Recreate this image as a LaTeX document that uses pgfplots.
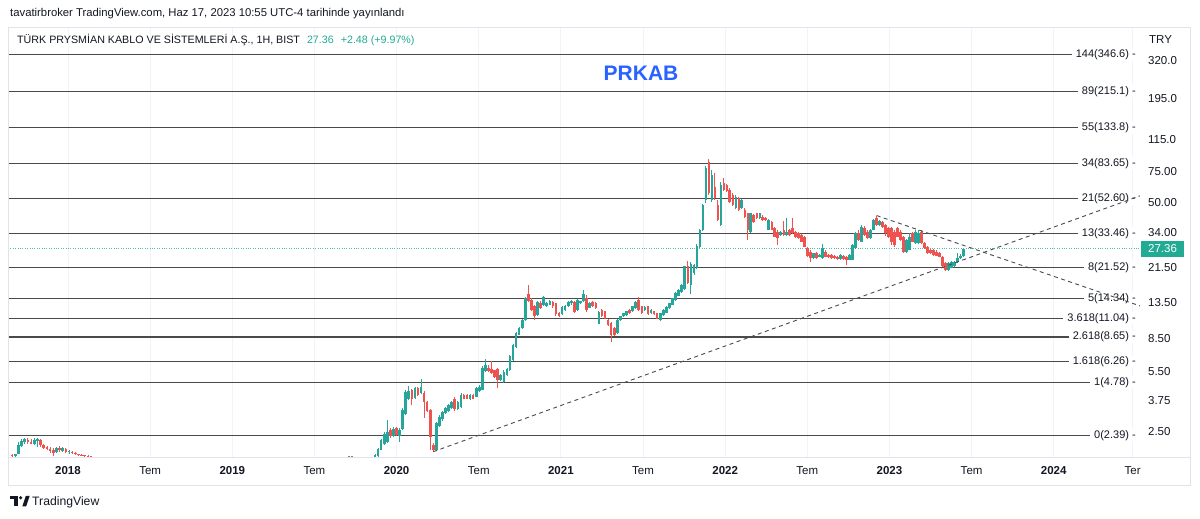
\documentclass[border=0pt]{standalone}
\usepackage{pgfplots}
\pgfplotsset{compat=1.18}
\usepackage{pgfplotstable}
\usepackage{fontspec}
\setmainfont{Liberation Sans}
\definecolor{tvgreen}{HTML}{26A69A}
\definecolor{tvred}{HTML}{EF5350}
\definecolor{tvtext}{HTML}{131722}
\definecolor{tvblue}{HTML}{2962FF}
\definecolor{tvbadge}{HTML}{22AB94}
\definecolor{tvfib}{HTML}{4A4A4A}
\definecolor{tvgrid}{HTML}{F0F3FA}
\definecolor{tvborder}{HTML}{E0E3EB}

% weekly candles: t (decimal year), open, high, low, close
\pgfplotstableread{
t o h l c
2017.660 1.84 1.86 1.80 1.82
2017.679 1.82 1.88 1.81 1.87
2017.698 1.88 2.18 1.86 2.10
2017.718 2.08 2.28 2.04 2.22
2017.737 2.18 2.30 2.12 2.28
2017.756 2.24 2.31 2.14 2.20
2017.775 2.20 2.29 2.12 2.14
2017.795 2.14 2.30 2.10 2.25
2017.814 2.22 2.30 2.06 2.27
2017.833 2.26 2.28 2.06 2.10
2017.852 2.10 2.13 2.00 2.03
2017.872 2.04 2.08 1.96 2.00
2017.891 2.01 2.05 1.90 1.94
2017.910 1.96 2.02 1.82 1.90
2017.929 1.92 2.06 1.90 2.03
2017.948 2.02 2.08 1.93 1.96
2017.968 1.95 2.05 1.92 2.02
2017.987 2.00 2.03 1.90 1.92
2018.006 1.92 1.96 1.88 1.94
2018.025 1.93 1.95 1.87 1.89
2018.045 1.89 1.91 1.85 1.87
2018.064 1.87 1.88 1.83 1.85
2018.083 1.85 1.86 1.82 1.83
2018.102 1.84 1.85 1.80 1.82
2018.122 1.83 1.84 1.79 1.81
2018.141 1.82 1.83 1.79 1.80
2019.710 1.80 1.83 1.78 1.82
2019.729 1.82 1.83 1.79 1.80
2019.869 1.78 1.86 1.76 1.84
2019.888 1.82 2.02 1.79 1.99
2019.906 1.98 2.28 1.96 2.24
2019.925 2.14 2.48 2.10 2.44
2019.944 2.20 2.92 2.15 2.50
2019.962 2.56 2.62 2.32 2.36
2019.981 2.36 2.66 2.33 2.61
2020.000 2.62 2.66 2.38 2.40
2020.018 2.36 2.62 2.20 2.56
2020.037 2.60 3.40 2.55 3.33
2020.056 3.15 4.30 3.10 4.22
2020.074 3.85 4.55 3.80 4.28
2020.093 4.30 4.40 3.55 3.82
2020.112 3.90 4.50 3.85 4.42
2020.130 4.42 4.50 4.00 4.06
2020.149 4.15 5.00 4.10 4.52
2020.168 4.15 4.25 3.00 3.68
2020.186 3.68 3.72 3.25 3.30
2020.205 3.33 3.36 1.98 2.35
2020.224 2.11 2.15 1.93 1.98
2020.242 1.98 2.85 1.94 2.80
2020.261 2.70 3.10 2.65 3.05
2020.280 2.95 3.30 2.90 3.25
2020.298 3.20 3.45 3.15 3.40
2020.317 3.30 3.62 3.25 3.55
2020.336 3.40 3.75 3.35 3.70
2020.354 3.85 3.95 3.30 3.37
2020.373 3.37 3.75 3.32 3.70
2020.392 3.46 4.15 3.42 4.05
2020.410 4.05 4.10 3.82 3.85
2020.429 4.05 4.10 3.82 3.86
2020.448 3.85 4.10 3.80 4.05
2020.466 4.05 4.10 3.82 3.86
2020.485 3.97 4.50 3.92 4.42
2020.504 4.25 4.60 4.20 4.52
2020.522 4.35 5.90 4.30 5.80
2020.541 5.55 6.45 5.50 6.00
2020.560 5.80 6.00 5.50 5.55
2020.578 5.70 6.35 5.35 5.40
2020.597 5.60 5.65 5.05 5.10
2020.616 5.70 5.75 4.42 4.93
2020.634 4.93 5.30 4.85 5.26
2020.653 4.80 5.60 4.75 5.50
2020.672 5.26 5.80 5.20 5.70
2020.690 5.62 6.80 5.55 6.70
2020.709 6.41 7.90 6.35 7.80
2020.727 7.55 9.20 7.50 9.10
2020.746 8.90 9.80 8.85 9.70
2020.765 9.70 10.90 9.60 10.80
2020.783 10.80 14.60 10.70 14.30
2020.802 15.20 17.10 13.60 13.80
2020.821 14.00 14.30 12.20 12.30
2020.839 12.90 13.10 10.80 11.30
2020.858 11.50 13.80 11.30 13.70
2020.877 13.50 13.80 12.50 12.70
2020.895 13.10 14.80 13.00 14.50
2020.914 12.90 13.60 12.80 13.50
2020.933 13.20 14.00 13.10 13.80
2020.951 13.70 13.90 12.60 12.90
2020.970 13.40 13.50 11.40 11.60
2020.989 11.80 12.00 11.20 11.30
2021.007 11.60 12.90 11.50 12.80
2021.026 12.30 13.20 12.20 13.00
2021.045 12.90 13.80 12.80 13.60
2021.063 13.40 14.10 13.20 13.90
2021.082 13.70 13.90 11.90 12.00
2021.101 12.30 14.20 12.10 14.00
2021.119 13.50 13.90 13.30 13.80
2021.138 13.80 16.00 13.60 15.20
2021.157 14.40 15.00 12.00 12.30
2021.175 12.70 13.60 12.60 13.50
2021.194 13.70 13.90 12.80 13.00
2021.213 13.40 13.60 12.50 12.60
2021.231 10.30 12.10 10.20 12.00
2021.250 12.30 12.50 11.20 11.30
2021.269 12.10 12.20 10.90 11.00
2021.287 10.80 11.00 10.00 10.10
2021.306 10.35 10.50 8.10 8.90
2021.325 9.70 9.90 8.70 8.90
2021.343 9.10 10.90 9.00 10.80
2021.362 10.80 11.40 10.70 11.30
2021.381 11.30 11.90 11.20 11.80
2021.399 11.50 12.20 11.40 12.10
2021.418 12.30 12.40 11.70 11.80
2021.437 12.10 13.00 12.00 12.90
2021.455 12.60 13.90 12.50 13.70
2021.474 14.00 14.60 12.20 12.30
2021.493 12.90 13.00 11.70 11.80
2021.511 12.30 12.90 12.20 12.80
2021.530 12.90 13.00 11.50 11.60
2021.549 11.80 12.40 11.70 12.30
2021.567 12.10 12.20 11.50 11.60
2021.586 11.80 11.90 10.90 11.00
2021.605 10.80 11.90 10.60 11.80
2021.623 11.50 12.40 11.40 12.30
2021.642 11.90 12.90 11.80 12.80
2021.661 12.60 13.50 12.50 13.40
2021.679 13.20 14.40 13.10 14.30
2021.698 14.00 15.50 13.90 15.30
2021.717 14.80 16.20 14.70 16.00
2021.735 15.50 17.20 15.40 17.00
2021.754 16.20 22.00 16.00 21.80
2021.773 21.90 23.40 17.20 17.50
2021.791 17.00 23.00 15.20 22.50
2021.810 19.90 22.50 19.50 22.20
2021.828 21.4 29.0 21.0 28.3
2021.846 28.0 35.5 27.5 35.0
2021.864 35.0 49.5 34.5 48.6
2021.883 51.9 80.5 50.0 79.0
2021.901 84.7 88.5 55.0 56.6
2021.919 51.9 76.8 50.8 72.0
2021.937 61.7 73.6 52.0 53.0
2021.956 48.6 51.9 39.5 40.0
2021.974 37.4 65.5 37.0 63.1
2021.992 64.6 69.0 58.5 59.2
2022.010 63.1 64.0 57.5 58.0
2022.028 59.2 60.5 50.0 50.3
2022.047 55.6 56.5 48.0 48.6
2022.065 46.5 55.0 46.0 54.2
2022.083 53.0 54.0 45.0 45.5
2022.101 46.5 52.5 46.0 51.9
2022.120 45.5 46.5 41.0 41.7
2022.138 43.5 44.0 30.8 35.0
2022.156 34.0 44.0 33.5 43.5
2022.174 42.6 43.0 38.5 39.1
2022.193 43.6 44.0 40.5 40.8
2022.211 40.8 43.8 40.5 43.6
2022.229 41.7 42.5 39.5 40.0
2022.247 40.8 41.5 39.6 40.0
2022.265 35.0 40.5 34.8 40.0
2022.284 39.1 39.5 34.8 35.0
2022.302 35.9 36.5 32.0 32.1
2022.320 34.3 34.8 28.8 31.4
2022.338 32.8 34.6 32.5 34.3
2022.357 35.06 39.5 32.5 32.8
2022.375 32.8 41.0 32.5 34.3
2022.393 35.06 35.5 32.5 32.8
2022.411 35.9 41.0 33.2 33.5
2022.429 34.3 34.7 31.5 31.8
2022.448 33.5 34.0 31.2 31.4
2022.466 32.8 33.2 30.0 30.1
2022.484 32.1 32.5 28.0 28.2
2022.502 27.5 27.9 24.6 24.8
2022.521 26.4 26.8 23.1 24.4
2022.539 24.2 26.0 24.0 25.8
2022.557 25.8 26.2 24.0 24.2
2022.575 24.7 25.6 24.5 25.3
2022.593 24.2 29.1 24.0 27.5
2022.612 26.4 26.8 24.5 24.7
2022.630 25.3 25.6 24.3 24.5
2022.648 25.3 25.5 24.0 24.2
2022.666 24.9 25.2 24.0 24.2
2022.685 24.7 25.0 23.7 23.9
2022.703 23.9 25.5 23.7 25.3
2022.721 24.9 25.1 23.7 23.9
2022.739 24.7 24.9 22.2 23.7
2022.757 23.7 25.5 23.5 25.3
2022.776 23.7 29.0 23.5 28.8
2022.794 27.5 34.0 27.2 33.5
2022.812 33.5 35.1 30.5 30.8
2022.830 30.1 37.4 29.8 36.6
2022.849 35.9 36.8 32.5 32.8
2022.867 34.3 35.0 31.0 31.4
2022.885 31.4 35.5 31.0 35.1
2022.903 35.1 40.5 34.8 40.0
2022.922 40.8 42.3 37.0 37.4
2022.940 37.4 40.0 37.0 39.5
2022.958 39.1 39.5 35.9 36.6
2022.976 37.4 37.8 32.5 33.5
2022.994 35.9 36.3 31.5 32.1
2023.013 35.9 36.5 28.8 30.1
2023.031 34.3 34.8 28.2 28.8
2023.049 35.9 36.6 31.8 32.1
2023.067 34.3 34.8 30.5 30.8
2023.086 32.1 32.5 26.0 26.4
2023.104 26.4 31.0 26.0 30.8
2023.122 27.0 33.5 26.8 32.1
2023.140 33.5 34.0 30.0 30.1
2023.158 29.4 35.1 29.0 34.3
2023.177 29.4 35.1 29.0 33.5
2023.195 34.3 34.8 29.0 29.4
2023.213 29.4 29.8 27.2 27.5
2023.231 28.2 28.5 25.5 25.8
2023.250 27.0 27.3 25.5 25.8
2023.268 27.0 27.3 25.0 25.3
2023.286 26.4 26.8 24.8 25.0
2023.304 25.8 26.1 24.5 24.7
2023.322 24.7 25.0 21.6 21.9
2023.341 22.6 23.0 20.4 20.8
2023.359 20.8 22.9 20.5 22.6
2023.377 21.4 23.4 21.2 23.1
2023.395 21.9 23.3 21.7 23.0
2023.414 23.0 25.8 22.8 24.2
2023.432 24.2 25.6 23.9 24.88
2023.450 24.88 27.40 24.70 27.36
}\candles

% build wick and body segments (separated by nan jumps) for rising and falling candles
\pgfplotstablegetrowsof{\candles}
\pgfmathtruncatemacro\lastrow{\pgfplotsretval-1}
\gdef\gw{}\gdef\gb{}\gdef\rw{}\gdef\rb{}
\pgfplotsforeachungrouped \i in {0,...,\lastrow}{%
  \pgfplotstablegetelem{\i}{t}\of\candles\let\vt\pgfplotsretval
  \pgfplotstablegetelem{\i}{o}\of\candles\let\vo\pgfplotsretval
  \pgfplotstablegetelem{\i}{h}\of\candles\let\vh\pgfplotsretval
  \pgfplotstablegetelem{\i}{l}\of\candles\let\vl\pgfplotsretval
  \pgfplotstablegetelem{\i}{c}\of\candles\let\vc\pgfplotsretval
  \ifdim\vc pt<\vo pt
    \xdef\rw{\rw (\vt,\vl) (\vt,\vh) (\vt,nan) }%
    \xdef\rb{\rb (\vt,\vo) (\vt,\vc) (\vt,nan) }%
  \else
    \xdef\gw{\gw (\vt,\vl) (\vt,\vh) (\vt,nan) }%
    \xdef\gb{\gb (\vt,\vo) (\vt,\vc) (\vt,nan) }%
  \fi
}

\begin{document}
\begin{tikzpicture}
\path[use as bounding box] (0pt,0pt) rectangle (1200pt,519pt);
\fill[white] (0pt,0pt) rectangle (1200pt,519pt);
\begin{axis}[
  at={(8pt,62pt)}, anchor=south west,
  width=1132pt, height=430pt, scale only axis,
  xmin=2017.6348, xmax=2024.5247,
  ymode=log, ymin=1.80, ymax=497.8,
  enlargelimits=false,
  axis line style={draw=none},
  major tick length=0pt,
  unbounded coords=jump,
  xtick={2018,2018.5,2019,2019.5,2020,2020.5,2021,2021.5,2022,2022.5,2023,2023.5,2024,2024.48},
  xticklabels={\textbf{2018},Tem,\textbf{2019},Tem,\textbf{2020},Tem,\textbf{2021},Tem,\textbf{2022},Tem,\textbf{2023},Tem,\textbf{2024},Ter},
  xticklabel style={anchor=base, yshift=-18pt, font=\fontsize{11.5}{13}\selectfont, text=tvtext},
  ytick={2.5,3.75,5.5,8.5,13.5,21.5,34,50,75,115,195,320},
  yticklabels={2.50,3.75,5.50,8.50,13.50,21.50,34.00,50.00,75.00,115.0,195.0,320.0},
  yticklabel pos=right,
  yticklabel style={anchor=west, inner xsep=0pt, xshift=8pt, font=\fontsize{11.5}{13}\selectfont, text=tvtext},
  xmajorgrids,
  major grid style={draw=tvgrid, line width=0.8pt},
]
% Fibonacci levels
\addplot[tvfib, line width=1.2pt] coordinates {(2017.6348,346.6) (2024.5247,346.6)};
\addplot[tvfib, line width=1.2pt] coordinates {(2017.6348,215.1) (2024.5247,215.1)};
\addplot[tvfib, line width=1.2pt] coordinates {(2017.6348,133.8) (2024.5247,133.8)};
\addplot[tvfib, line width=1.2pt] coordinates {(2017.6348,83.65) (2024.5247,83.65)};
\addplot[tvfib, line width=1.2pt] coordinates {(2017.6348,52.60) (2024.5247,52.60)};
\addplot[tvfib, line width=1.2pt] coordinates {(2017.6348,33.46) (2024.5247,33.46)};
\addplot[tvfib, line width=1.2pt] coordinates {(2017.6348,21.52) (2024.5247,21.52)};
\addplot[tvfib, line width=1.2pt] coordinates {(2017.6348,14.34) (2024.5247,14.34)};
\addplot[tvfib, line width=1.2pt] coordinates {(2017.6348,11.04) (2024.5247,11.04)};
\addplot[tvfib, line width=1.2pt] coordinates {(2017.6348,8.65) (2024.5247,8.65)};
\addplot[tvfib, line width=1.2pt] coordinates {(2017.6348,6.26) (2024.5247,6.26)};
\addplot[tvfib, line width=1.2pt] coordinates {(2017.6348,4.78) (2024.5247,4.78)};
\addplot[tvfib, line width=1.2pt] coordinates {(2017.6348,2.39) (2024.5247,2.39)};
% level labels
\begin{scope}[every node/.style={anchor=east, fill=white, inner xsep=4pt, inner ysep=1pt, font=\fontsize{11}{12}\selectfont, text=tvtext}]
\node at (axis cs:2024.5247,346.6) {144(346.6) -};
\node at (axis cs:2024.5247,215.1) {89(215.1) -};
\node at (axis cs:2024.5247,133.8) {55(133.8) -};
\node at (axis cs:2024.5247,83.65) {34(83.65) -};
\node at (axis cs:2024.5247,52.60) {21(52.60) -};
\node at (axis cs:2024.5247,33.46) {13(33.46) -};
\node at (axis cs:2024.5247,21.52) {8(21.52) -};
\node at (axis cs:2024.5247,14.34) {5(14.34) -};
\node at (axis cs:2024.5247,11.04) {3.618(11.04) -};
\node at (axis cs:2024.5247,8.65) {2.618(8.65) -};
\node at (axis cs:2024.5247,6.26) {1.618(6.26) -};
\node at (axis cs:2024.5247,4.78) {1(4.78) -};
\node at (axis cs:2024.5247,2.39) {0(2.39) -};
\end{scope}
% last price line
\addplot[tvbadge!80, line width=0.8pt, dash pattern=on 0.8pt off 1.6pt] coordinates {(2017.6348,27.36) (2024.5247,27.36)};
% candles: wicks then bodies
\edef\tmp{\noexpand\addplot[tvgreen, line width=0.9pt] coordinates {\gw};}\tmp
\edef\tmp{\noexpand\addplot[tvred, line width=0.9pt] coordinates {\rw};}\tmp
\edef\tmp{\noexpand\addplot[tvgreen, line width=2.6pt] coordinates {\gb};}\tmp
\edef\tmp{\noexpand\addplot[tvred, line width=2.6pt] coordinates {\rb};}\tmp
% trend lines
\addplot[tvfib, line width=0.9pt, dash pattern=on 4pt off 3.5pt] coordinates {(2020.224,1.93) (2024.5247,54.7)};
\addplot[tvfib, line width=0.9pt, dash pattern=on 4pt off 3.5pt] coordinates {(2022.922,42.3) (2024.5247,12.98)};
\coordinate (cp) at (axis cs:2024.5247,27.36);
\end{axis}
% borders
\draw[tvborder, line width=0.8pt] (8pt,34pt) rectangle (1190pt,492pt);
\draw[tvborder, line width=0.8pt] (8pt,62pt) -- (1190pt,62pt);
% price badge
\node[fill=tvbadge, text=white, anchor=west, inner xsep=7pt, inner ysep=0pt, minimum height=16pt, font=\fontsize{11.5}{13}\selectfont] at ([xshift=1pt]cp) {27.36};
% headers
\node[anchor=base west, inner sep=0pt, font=\fontsize{11.3}{13}\selectfont, text=tvtext] at (10pt,502pt) {tavatirbroker TradingView.com, Haz 17, 2023 10:55 UTC-4 tarihinde yayınlandı};
\node[anchor=base west, inner sep=0pt, font=\fontsize{10.7}{13}\selectfont, text=tvtext] at (17pt,475pt) {TÜRK PRYSMİAN KABLO VE SİSTEMLERİ A.Ş., 1H, BIST\hspace{7pt}\textcolor{tvbadge}{27.36\hspace{7pt}+2.48 (+9.97\%)}};
\node[anchor=base west, inner sep=0pt, font=\fontsize{11.5}{13}\selectfont, text=tvtext] at (1149pt,475pt) {TRY};
\node[anchor=base, inner sep=0pt, font=\bfseries\fontsize{21}{24}\selectfont, text=tvblue] at (641pt,438.5pt) {PRKAB};
% TradingView logo
\fill[tvtext] (10pt,23pt) rectangle (17.5pt,19.8pt);
\fill[tvtext] (14.2pt,19.8pt) rectangle (17.5pt,12.5pt);
\fill[tvtext] (20.6pt,21.2pt) circle (1.8pt);
\fill[tvtext] (22.3pt,12.5pt) -- (25.8pt,23pt) -- (29.6pt,23pt) -- (26.1pt,12.5pt) -- cycle;
\node[anchor=base west, inner sep=0pt, font=\fontsize{12.2}{14}\selectfont, text=tvtext] at (32pt,13pt) {TradingView};
\end{tikzpicture}
\end{document}
